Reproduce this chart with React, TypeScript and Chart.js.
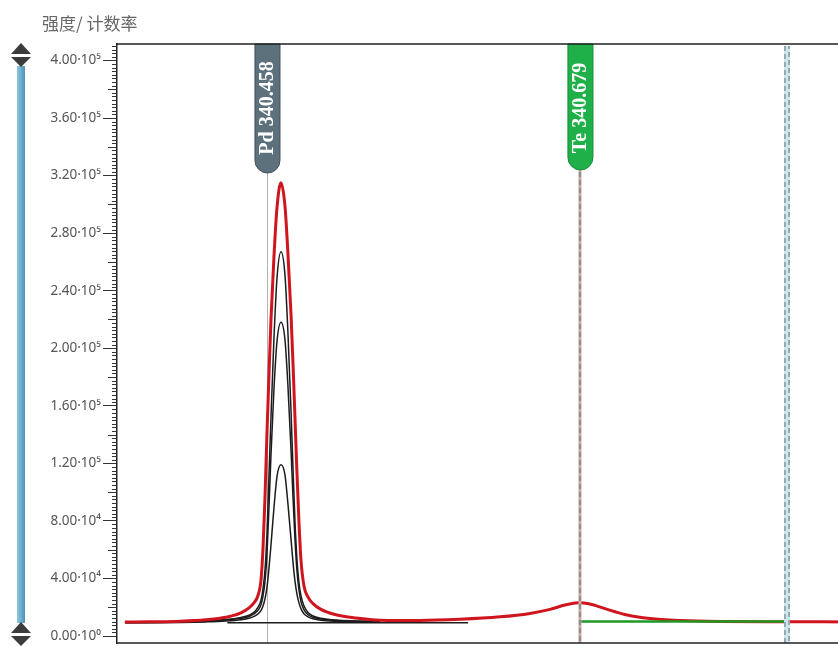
import React, { useEffect, useRef } from "react";
import { Chart, registerables } from "chart.js";

Chart.register(...registerables);

// ---- data ----
const pdWavelengths = [
  340.3577, 340.3754, 340.3973, 340.4149, 340.429, 340.4396, 340.4453, 340.4488,
  340.4516, 340.4538, 340.4552, 340.4566, 340.458, 340.4594, 340.4608, 340.4629,
  340.4651, 340.4679, 340.4707, 340.4728, 340.475, 340.4764, 340.4778, 340.4792,
  340.4806, 340.482, 340.4841, 340.487, 340.4905, 340.4961, 340.5067, 340.5209,
  340.5378,
];
const redPd = [
  9700, 9900, 10300, 11300, 13000, 16000, 19500, 23000, 28000, 39000, 61000, 96000,
  141000, 181000, 219000, 263000, 298000, 315000, 299000, 266000, 223000, 189000,
  151000, 113000, 79000, 53000, 35000, 27000, 22500, 18500, 14800, 12500, 11000,
];
const black1 = [
  9300, 9500, 9900, 10500, 11400, 12900, 14400, 16400, 19900, 24900, 32900, 45900,
  70900, 111000, 151000, 206000, 249000, 267000, 251000, 211000, 156000, 116000,
  79000, 53000, 37000, 28000, 21000, 16400, 13900, 12400, 11100, 10500, 10100,
];
const black2 = [
  9300, 9450, 9800, 10300, 11100, 12300, 13600, 15300, 17800, 21800, 27800, 37800,
  56800, 89000, 125000, 171000, 205000, 218000, 206000, 174000, 129000, 96000,
  67000, 45000, 32000, 24000, 18300, 14800, 13000, 11800, 10800, 10200, 9900,
];
const black3 = [
  9200, 9250, 9400, 9800, 10400, 11300, 12300, 13600, 15300, 17800, 20800, 25800,
  33800, 46800, 62800, 88800, 111000, 119000, 112000, 92000, 67000, 51000, 38000,
  29000, 23000, 19000, 15500, 13300, 12000, 11000, 10200, 9700, 9500,
];
const teWavelengths = [
  340.566, 340.5943, 340.6225, 340.6437, 340.6579, 340.6685, 340.6776, 340.6861,
  340.6967, 340.7108, 340.7285, 340.7497, 340.7779, 340.8252, 340.87,
];
const redTe = [
  10800, 11600, 13300, 15700, 18500, 21500, 23100, 22200, 19000, 15000, 12200, 10800,
  10100, 9900, 9800,
];
const greenWavelengths = [340.679, 340.8252];
const greenValues = [10000, 10000];
const baselineWavelengths = [340.43, 340.6];
const baselineValues = [9200, 9200];

const markerWavelengths = [340.458, 340.679, 340.8252];
const markerNames = ["Pd 340.458", "Te 340.679", ""];

const yTickValues = [0, 40000, 80000, 120000, 160000, 200000, 240000, 280000, 320000, 360000, 400000];
const yTickLabels = [
  "0.00·10⁰", "4.00·10⁴", "8.00·10⁴", "1.20·10⁵", "1.60·10⁵", "2.00·10⁵",
  "2.40·10⁵", "2.80·10⁵", "3.20·10⁵", "3.60·10⁵", "4.00·10⁵",
];
const yTitle = "强度/ 计数率";

const toXY = (xs: number[], ys: number[]) => xs.map((x, i) => ({ x, y: ys[i] }));

function roundBottomRect(ctx: CanvasRenderingContext2D, x: number, y: number, w: number, h: number) {
  const r = w / 2;
  ctx.beginPath();
  ctx.moveTo(x, y);
  ctx.lineTo(x + w, y);
  ctx.lineTo(x + w, y + h - r);
  ctx.arc(x + r, y + h - r, r, 0, Math.PI, false);
  ctx.closePath();
}

const decor = {
  id: "decor",
  beforeDatasetsDraw(chart: any) {
    const { ctx, chartArea, scales } = chart;
    const px = Math.round(scales.x.getPixelForValue(markerWavelengths[0])) + 0.5;
    ctx.save();
    ctx.strokeStyle = "#b2b2b2";
    ctx.lineWidth = 1;
    ctx.beginPath();
    ctx.moveTo(px, chartArea.top + 125);
    ctx.lineTo(px, chartArea.bottom);
    ctx.stroke();
    ctx.restore();
  },
  afterDatasetsDraw(chart: any) {
    const { ctx, chartArea, scales } = chart;
    const x = scales.x;
    ctx.save();
    // Te marker line
    const tx = x.getPixelForValue(markerWavelengths[1]);
    ctx.strokeStyle = "#d2a9a9";
    ctx.lineWidth = 3;
    ctx.beginPath();
    ctx.moveTo(tx, chartArea.top + 120);
    ctx.lineTo(tx, chartArea.bottom);
    ctx.stroke();
    ctx.setLineDash([5, 3]);
    ctx.strokeStyle = "#8c8c8c";
    ctx.lineWidth = 2;
    ctx.beginPath();
    ctx.moveTo(tx, chartArea.top + 120);
    ctx.lineTo(tx, chartArea.bottom);
    ctx.stroke();
    // right marker line
    const rx = x.getPixelForValue(markerWavelengths[2]);
    ctx.setLineDash([]);
    ctx.strokeStyle = "#cfe6ec";
    ctx.lineWidth = 6;
    ctx.beginPath();
    ctx.moveTo(rx, chartArea.top + 2);
    ctx.lineTo(rx, chartArea.bottom);
    ctx.stroke();
    ctx.setLineDash([5, 3]);
    ctx.strokeStyle = "#7f969c";
    ctx.lineWidth = 1.5;
    [-2, 2].forEach((d, k) => {
      ctx.lineDashOffset = k * 2;
      ctx.beginPath();
      ctx.moveTo(rx + d, chartArea.top + 2);
      ctx.lineTo(rx + d, chartArea.bottom);
      ctx.stroke();
    });
    ctx.setLineDash([]);
    ctx.lineDashOffset = 0;

    // labels
    const fills = ["#5d717d", "#20b04a"];
    const strokes = ["#3f4f58", "#158a36"];
    const heights = [129, 126];
    [0, 1].forEach((i) => {
      const cx = x.getPixelForValue(markerWavelengths[i]) + 0.5;
      const w = 25;
      roundBottomRect(ctx, cx - w / 2, chartArea.top, w, heights[i]);
      ctx.fillStyle = fills[i];
      ctx.fill();
      ctx.strokeStyle = strokes[i];
      ctx.lineWidth = 1;
      ctx.stroke();
      ctx.save();
      ctx.translate(cx - 1, chartArea.top + 64);
      ctx.rotate(-Math.PI / 2);
      ctx.fillStyle = "#ffffff";
      ctx.font = 'bold 20px "Liberation Serif"';
      ctx.textAlign = "center";
      ctx.textBaseline = "middle";
      ctx.fillText(markerNames[i], 0, 1);
      ctx.restore();
    });

    // frame
    ctx.strokeStyle = "#222";
    ctx.lineWidth = 1.5;
    ctx.beginPath();
    ctx.moveTo(chartArea.left, chartArea.top);
    ctx.lineTo(chartArea.right, chartArea.top);
    ctx.moveTo(chartArea.left, chartArea.bottom);
    ctx.lineTo(chartArea.right, chartArea.bottom);
    ctx.stroke();
    ctx.restore();
  },
  afterDraw(chart: any) {
    const { ctx, chartArea, scales } = chart;
    const y = scales.y;
    ctx.save();
    // minor ticks
    ctx.strokeStyle = "#333";
    ctx.lineWidth = 1;
    for (let v = 0; v <= y.max; v += 2500) {
      if (v % 40000 === 0) continue;
      const len = v % 20000 === 0 ? 9 : 5;
      const py = Math.round(y.getPixelForValue(v)) + 0.5;
      ctx.beginPath();
      ctx.moveTo(chartArea.left - len, py);
      ctx.lineTo(chartArea.left, py);
      ctx.stroke();
    }
    // title
    ctx.fillStyle = "#666";
    ctx.font = '17px "Noto Sans CJK SC"';
    ctx.textBaseline = "middle";
    ctx.textAlign = "left";
    ctx.fillText(yTitle, 42, 24);

    // slider bar
    const bx = 17, bw = 8, btop = 66, bbot = 623;
    const g = ctx.createLinearGradient(bx, 0, bx + bw, 0);
    g.addColorStop(0, "#8fc6e0");
    g.addColorStop(0.5, "#6daed0");
    g.addColorStop(1, "#4f91b6");
    ctx.fillStyle = g;
    ctx.fillRect(bx, btop, bw, bbot - btop);

    const tri = (cx: number, apexY: number, baseY: number) => {
      ctx.beginPath();
      ctx.moveTo(cx, apexY);
      ctx.lineTo(cx + 10, baseY);
      ctx.lineTo(cx - 10, baseY);
      ctx.closePath();
      ctx.fill();
    };
    ctx.fillStyle = "#3c3c3c";
    tri(21, 43, 54);
    tri(21, 67, 57);
    tri(21, 622, 633);
    tri(21, 646, 636);
    ctx.restore();
  },
};

export default function App() {
  const ref = useRef<HTMLCanvasElement | null>(null);
  useEffect(() => {
    document.body.style.margin = "0";
    document.body.style.overflow = "hidden";
    document.documentElement.style.overflow = "hidden";
    const canvas = ref.current;
    if (!canvas) return;
    const line = (data: any, color: string, width: number, order: number) => ({
      data,
      borderColor: color,
      borderWidth: width,
      pointRadius: 0,
      fill: false,
      cubicInterpolationMode: "monotone",
      order,
    });
    const chart = new Chart(canvas, {
      type: "line",
      data: {
        datasets: [
          line(toXY(greenWavelengths, greenValues), "#1e9a22", 2.5, 0) as any,
          line(toXY([...pdWavelengths, ...teWavelengths], [...redPd, ...redTe]), "#cf151d", 3, 1) as any,
          line(toXY(pdWavelengths, black1), "#1c1c1c", 1.5, 2) as any,
          line(toXY(pdWavelengths, black2), "#1c1c1c", 1.5, 3) as any,
          line(toXY(pdWavelengths, black3), "#1c1c1c", 1.5, 4) as any,
          line(toXY(baselineWavelengths, baselineValues), "#1c1c1c", 1.3, 5) as any,
        ],
      },
      options: {
        animation: false,
        responsive: false,
        maintainAspectRatio: false,
        layout: { padding: { top: 44, right: 10, bottom: 3, left: 0 } },
        plugins: { legend: { display: false }, tooltip: { enabled: false }, title: { display: false } },
        scales: {
          x: { type: "linear", min: 340.3521, max: 340.8697, display: false },
          y: {
            type: "linear",
            min: -4865,
            max: 411468,
            afterFit(s: any) {
              s.width = 117;
              s.paddingTop = 0;
              s.paddingBottom = 0;
            },
            afterBuildTicks(s: any) {
              s.ticks = yTickValues.map((v) => ({ value: v }));
            },
            ticks: {
              autoSkip: false,
              padding: 2,
              color: "#555",
              font: { family: "Noto Sans", size: 13.5 },
              callback: (_v: any, i: number) => yTickLabels[i],
            },
            grid: { drawOnChartArea: false, drawTicks: true, tickLength: 14, color: "#333", lineWidth: 1 },
            border: { display: true, color: "#222", width: 1.5 },
          },
        },
      } as any,
      plugins: [decor],
    });
    return () => chart.destroy();
  }, []);
  return (
    <div style={{ position: "fixed", left: 0, top: 0, width: 860, height: 646, background: "#fff" }}>
      <canvas ref={ref} width={860} height={646} style={{ display: "block" }} />
    </div>
  );
}
